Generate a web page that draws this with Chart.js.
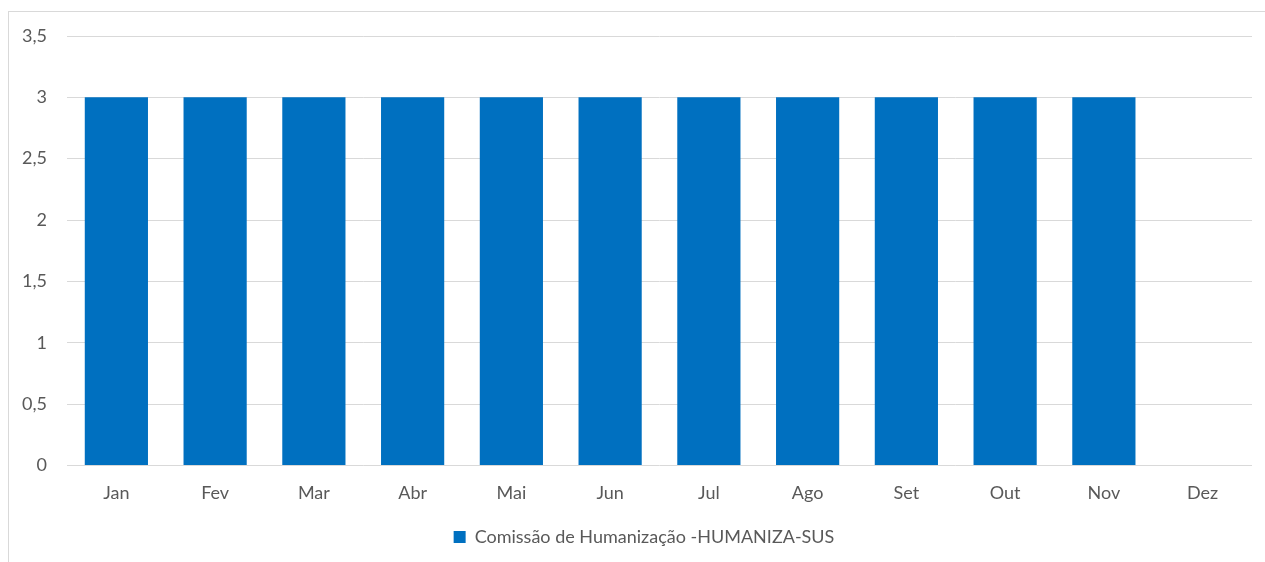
<!DOCTYPE html>
<html>
<head>
<meta charset="utf-8">
<script src="https://cdn.jsdelivr.net/npm/chart.js@4/dist/chart.umd.min.js"></script>
<style>
html,body{margin:0;padding:0;background:#fff;}
#wrap{position:absolute;left:0;top:0;width:1265px;height:562px;}
#frame{position:absolute;left:8px;top:11px;width:1300px;height:600px;border-left:1px solid #d9d9d9;border-top:1px solid #d9d9d9;pointer-events:none;}
</style>
</head>
<body>
<div id="wrap"><canvas id="c" width="1265" height="562"></canvas></div>
<div id="frame"></div>
<script>
const categories = ["Jan","Fev","Mar","Abr","Mai","Jun","Jul","Ago","Set","Out","Nov","Dez"];
const seriesName = "Comissão de Humanização -HUMANIZA-SUS";
const values = [3,3,3,3,3,3,3,3,3,3,3,null];
const yMin = 0, yMax = 3.5, yStep = 0.5;

const FONT = "Lato, 'Open Sans', sans-serif";
const legendShift = {
  id: 'legendShift',
  afterLayout(chart) {
    if (chart.legend) { chart.legend.left += 18; chart.legend.right += 18; }
  }
};
new Chart(document.getElementById('c'), {
  type: 'bar',
  data: {
    labels: categories,
    datasets: [{
      label: seriesName,
      data: values,
      backgroundColor: '#0070c0',
      borderWidth: 0,
      barPercentage: 0.64,
      categoryPercentage: 1
    }]
  },
  plugins: [legendShift],
  options: {
    responsive: false,
    animation: false,
    layout: { padding: { top: 36, right: 13, bottom: 6, left: 0 } },
    plugins: {
      tooltip: { enabled: false },
      legend: {
        position: 'bottom',
        labels: {
          boxWidth: 12, boxHeight: 12, padding: 7,
          color: '#595959',
          font: { family: FONT, size: 18 }
        }
      }
    },
    scales: {
      x: {
        grid: { display: false, drawTicks: false },
        border: { display: false },
        ticks: { color: '#595959', font: { family: FONT, size: 18 }, padding: 17 }
      },
      y: {
        min: yMin, max: yMax,
        afterFit: s => { s.width = 67; },
        grid: { color: '#d9d9d9', drawTicks: false },
        border: { display: false },
        ticks: {
          stepSize: yStep, padding: 20, color: '#595959',
          font: { family: FONT, size: 18 },
          callback: v => String(v).replace('.', ',')
        }
      }
    }
  }
});
</script>
</body>
</html>
